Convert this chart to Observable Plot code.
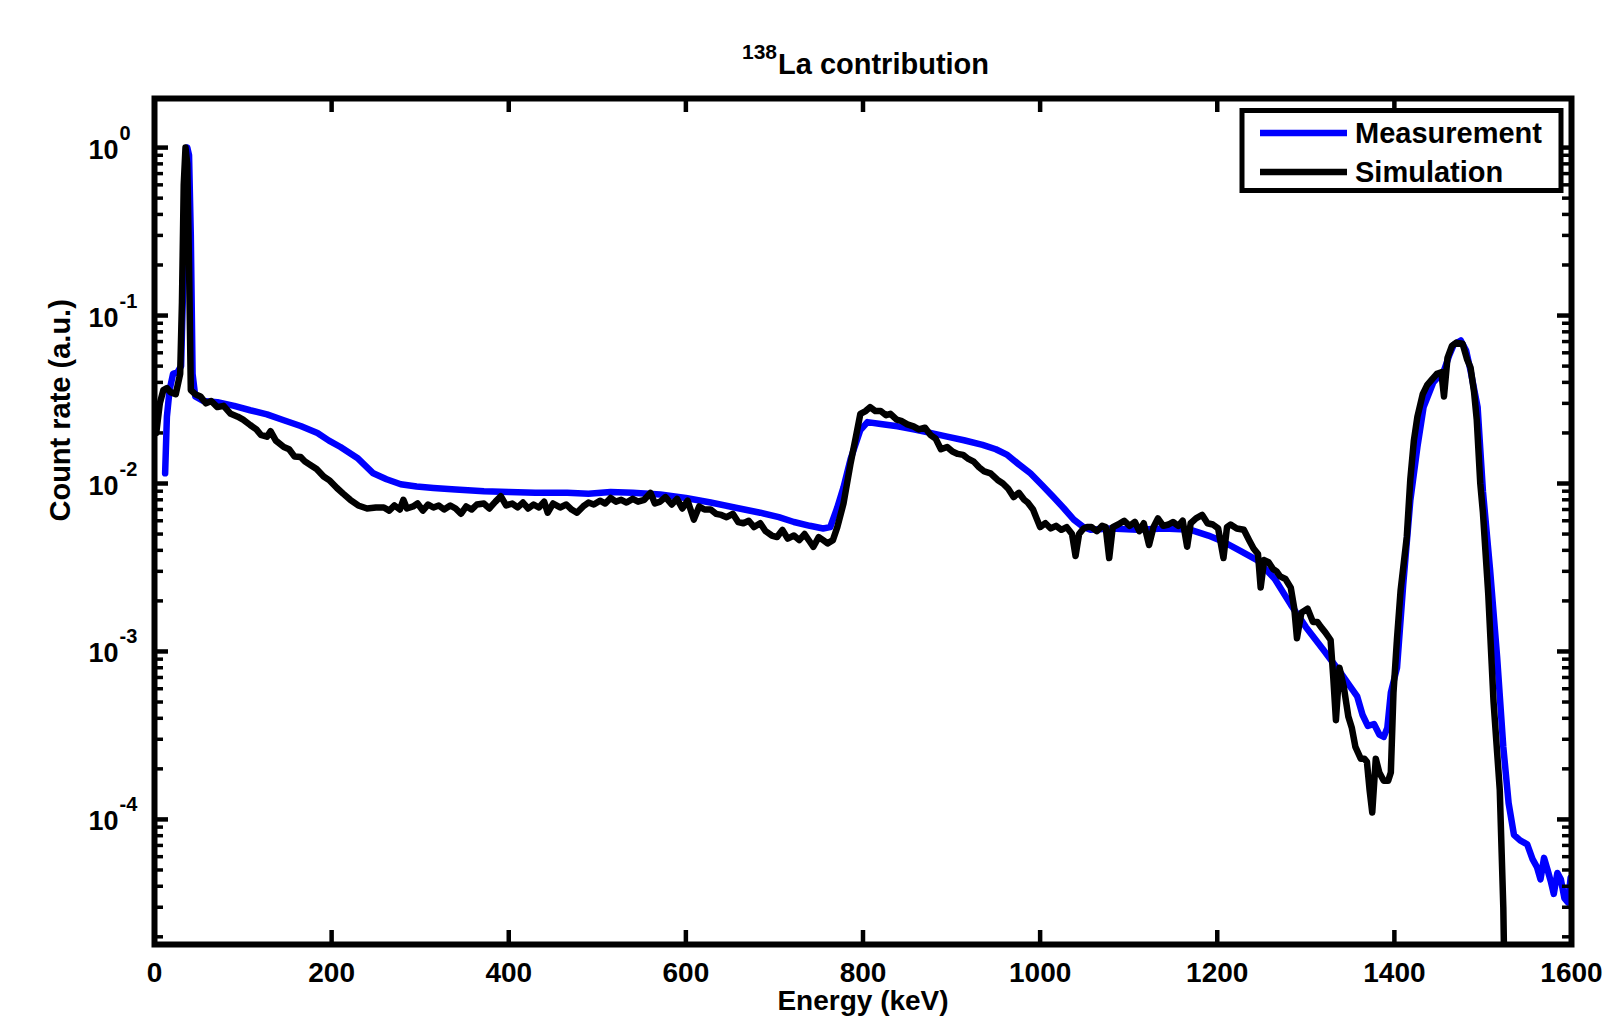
<!DOCTYPE html>
<html><head><meta charset="utf-8">
<script src="https://cdn.jsdelivr.net/npm/d3@7"></script>
<script src="https://cdn.jsdelivr.net/npm/@observablehq/plot@0.6"></script>
<style>body{margin:0;background:#fff}#chart{position:relative;width:1613px;height:1021px}</style>
</head><body><div id="chart"></div>
<script>
// ---- data ----
const measE = [12,14,17,21,26,30,33,35,37,39,41,43,46,55,71,90,108,127,146,165,184,197,210,229,247,262,278,296,315,340,372,400,430,466,490,515,540,571,600,628,655,684,705,722,740,755,763,771,778,786,797,805,820,839,857,876,895,914,935,950,963,976,989,1002,1015,1027,1038,1049,1057,1080,1110,1140,1170,1190,1207,1225,1245,1265,1283,1300,1320,1339,1350,1358,1364,1370,1377,1383,1388,1392,1396,1403,1410,1418,1426,1433,1444,1456,1462,1467,1475,1481,1486,1494,1500,1508,1516,1523,1529,1535,1542,1550,1556,1561,1565,1569,1573,1577,1580,1584,1588,1592,1596,1599,1601];
const measV = [0.0115,0.025,0.036,0.045,0.046,0.05,0.2,0.7,1.0,0.9,0.3,0.045,0.033,0.031,0.0305,0.029,0.0273,0.0258,0.0238,0.022,0.02,0.018,0.0165,0.0142,0.0115,0.0106,0.0099,0.0096,0.0094,0.0092,0.009,0.0089,0.0088,0.0088,0.0087,0.0089,0.0088,0.0086,0.0082,0.0077,0.0072,0.0067,0.0063,0.0059,0.0056,0.0054,0.0055,0.0072,0.0095,0.014,0.0208,0.0232,0.0226,0.0219,0.021,0.02,0.019,0.0181,0.017,0.016,0.0148,0.013,0.0115,0.0098,0.0083,0.0071,0.0061,0.0055,0.0053,0.0054,0.0053,0.0054,0.0053,0.0049,0.0045,0.004,0.0035,0.0027,0.0019,0.0014,0.00102,0.00075,0.00062,0.00054,0.00042,0.00036,0.00037,0.00032,0.00031,0.00035,0.00057,0.0008,0.0025,0.0079,0.0165,0.0285,0.04,0.047,0.058,0.067,0.071,0.062,0.047,0.0285,0.009,0.0031,0.00093,0.00027,0.000125,0.000081,0.000075,0.000071,0.000058,0.000052,0.000044,0.000059,0.00005,0.000042,0.000036,0.000048,0.000044,0.000034,0.000032,0.000045,0.00003];

const simE = [2,6,10,14,18,24,29,31,33,35,37,39,41,46,52,58,64,71,78,86,94,100,108,115,120,127,131,137,146,152,158,165,170,176,183,191,198,206,213,221,230,240,250,259,265,271,277,281,285,292,297,303,309,315,321,327,334,340,346,352,358,364,372,378,385,391,397,404,410,416,422,428,434,440,444,450,458,465,471,477,484,490,496,503,509,515,521,527,533,540,546,553,560,565,571,577,584,590,596,602,609,615,621,628,634,640,646,653,659,665,671,677,684,690,697,703,709,715,722,728,734,740,744,750,755,760,766,771,778,786,792,797,803,808,814,820,826,831,838,844,850,857,863,870,876,882,888,895,901,907,913,919,925,931,937,944,952,958,964,970,976,982,986,992,996,1000,1006,1012,1018,1024,1030,1036,1040,1044,1049,1053,1058,1064,1070,1074,1078,1082,1088,1095,1101,1107,1112,1117,1123,1128,1133,1139,1145,1150,1156,1161,1166,1170,1176,1183,1189,1195,1201,1207,1211,1215,1222,1230,1236,1241,1246,1249,1253,1258,1263,1267,1271,1277,1283,1287,1290,1295,1302,1308,1313,1317,1322,1328,1331,1334,1338,1343,1348,1352,1356,1362,1366,1369,1372,1375,1379,1383,1388,1393,1396,1399,1403,1407,1414,1418,1422,1426,1432,1437,1443,1448,1453,1456,1460,1465,1470,1477,1482,1486,1490,1493,1497,1500,1506,1512,1519,1523,1526];
const simV = [0.02,0.03,0.036,0.037,0.035,0.034,0.045,0.12,0.6,1.0,0.8,0.2,0.036,0.034,0.033,0.03,0.031,0.0285,0.029,0.026,0.025,0.024,0.0223,0.021,0.0195,0.019,0.0205,0.018,0.0165,0.016,0.0145,0.0144,0.0135,0.0129,0.0122,0.011,0.0104,0.0094,0.0087,0.008,0.0074,0.0071,0.0072,0.0072,0.0069,0.0074,0.007,0.008,0.0071,0.0073,0.0076,0.0069,0.0075,0.0072,0.0074,0.007,0.0074,0.0071,0.0066,0.0073,0.007,0.0075,0.0076,0.0071,0.0078,0.0084,0.0074,0.0076,0.0072,0.0077,0.0071,0.0075,0.0072,0.0078,0.0067,0.0076,0.0072,0.0075,0.007,0.0067,0.0073,0.0077,0.0075,0.0079,0.0076,0.0082,0.0078,0.008,0.0077,0.0081,0.0078,0.008,0.0088,0.0076,0.0078,0.0083,0.0075,0.0081,0.0071,0.0079,0.0061,0.0073,0.007,0.007,0.0066,0.0065,0.0063,0.0066,0.0059,0.0058,0.006,0.0055,0.0058,0.0052,0.0049,0.0048,0.0053,0.0047,0.0049,0.0046,0.005,0.0045,0.0042,0.0048,0.0046,0.0044,0.0046,0.0055,0.0076,0.0132,0.019,0.026,0.027,0.0285,0.027,0.027,0.0255,0.026,0.024,0.0235,0.0225,0.0219,0.021,0.0215,0.0195,0.0185,0.016,0.0165,0.0155,0.015,0.0148,0.014,0.0135,0.0125,0.0118,0.0115,0.0105,0.01,0.0093,0.0083,0.0088,0.008,0.0077,0.007,0.0062,0.0055,0.0058,0.0054,0.0056,0.0053,0.0055,0.005,0.0037,0.005,0.0054,0.0055,0.0055,0.0052,0.0056,0.0055,0.0036,0.0055,0.0057,0.006,0.0056,0.0059,0.0052,0.0058,0.0043,0.0055,0.0062,0.0056,0.0057,0.0059,0.0056,0.006,0.0042,0.0058,0.0062,0.0065,0.0058,0.0057,0.0054,0.0036,0.0055,0.0057,0.0054,0.0053,0.0046,0.0041,0.0038,0.0024,0.0035,0.0034,0.0031,0.003,0.0028,0.0027,0.0024,0.0018,0.0012,0.0017,0.0018,0.0015,0.0015,0.0014,0.0013,0.00117,0.0007,0.00039,0.0008,0.00061,0.00041,0.00035,0.00027,0.00023,0.00023,0.00022,0.00015,0.00011,0.00023,0.00019,0.00017,0.00017,0.00019,0.00057,0.0012,0.0023,0.0048,0.0106,0.018,0.025,0.034,0.0385,0.042,0.045,0.046,0.033,0.056,0.066,0.069,0.068,0.055,0.049,0.035,0.024,0.01,0.0067,0.0022,0.0005,0.00015,0.00003,0.000003];

const series = ["Measurement", "Simulation"];
const seriesColors = ["#0000ff", "#000000"];
const xTicks = [0, 200, 400, 600, 800, 1000, 1200, 1400, 1600];
const yTicks = [1, 0.1, 0.01, 0.001, 0.0001];
const yExps = ["0", "-1", "-2", "-3", "-4"];
const titleSup = "138";
const titleMain = "La contribution";
const xLabel = "Energy (keV)";
const yLabel = "Count rate (a.u.)";

// ---- layout ----
const W = 1613, H = 1021, mL = 154, mR = 42, mT = 98, mB = 77;
const pH = H - mT - mB, pW = W - mL - mR;
const xDomain = [0, 1600], yDomain = [1.8e-5, 1.96];
const FONT = "'Liberation Sans', Arial, Helvetica, sans-serif";
const LW = 6.5;

const meas = measE.map((e, i) => ({e, v: measV[i]}));
const sim = simE.map((e, i) => ({e, v: simV[i]}));
const minor = [];
for (let k = -5; k <= 0; k++) for (let m = 2; m <= 9; m++) {
  const v = m * Math.pow(10, k);
  if (v >= yDomain[0] && v <= yDomain[1]) minor.push(v);
}
const majLen = 14, minLen = 9;

const plot = Plot.plot({
  width: W, height: H,
  marginLeft: mL, marginRight: mR, marginTop: mT, marginBottom: mB,
  style: {fontFamily: FONT, fontWeight: "bold", background: "#fff"},
  x: {domain: xDomain, axis: null},
  y: {type: "log", domain: yDomain, axis: null},
  marks: [
    Plot.line(meas, {x: "e", y: "v", stroke: seriesColors[0], strokeWidth: LW, strokeLinejoin: "round", clip: true}),
    Plot.line(sim, {x: "e", y: "v", stroke: seriesColors[1], strokeWidth: LW, strokeLinejoin: "round", clip: true}),
    Plot.ruleX(xTicks, {x: d => d, insetTop: pH - majLen, stroke: "#000", strokeWidth: 4.5}),
    Plot.ruleX(xTicks, {x: d => d, insetBottom: pH - majLen, stroke: "#000", strokeWidth: 4.5}),
    Plot.ruleY(yTicks, {y: d => d, insetRight: pW - majLen, stroke: "#000", strokeWidth: 4.5}),
    Plot.ruleY(yTicks, {y: d => d, insetLeft: pW - majLen, stroke: "#000", strokeWidth: 4.5}),
    Plot.ruleY(minor, {y: d => d, insetRight: pW - minLen, stroke: "#000", strokeWidth: 3.5}),
    Plot.ruleY(minor, {y: d => d, insetLeft: pW - minLen, stroke: "#000", strokeWidth: 3.5}),
    Plot.frame({stroke: "#000", strokeWidth: 6}),
    Plot.text(xTicks, {x: d => d, text: d => String(d), frameAnchor: "bottom", lineAnchor: "top", dy: 18, fontSize: 28, fontWeight: "bold", fill: "#000"}),
    Plot.text(yTicks, {y: d => d, text: () => "10", frameAnchor: "left", textAnchor: "end", lineAnchor: "bottom", dx: -36, dy: 11, fontSize: 27, fontWeight: "bold", fill: "#000"}),
    Plot.text(yTicks, {y: d => d, text: (d, i) => yExps[i], frameAnchor: "left", textAnchor: "start", lineAnchor: "bottom", dx: -35, dy: -8, fontSize: 20, fontWeight: "bold", fill: "#000"}),
    Plot.text([xLabel], {text: d => d, frameAnchor: "bottom", lineAnchor: "top", dy: 46, fontSize: 28, fontWeight: "bold", fill: "#000"}),
    Plot.text([yLabel], {text: d => d, frameAnchor: "left", rotate: -90, lineAnchor: "middle", dx: -94, fontSize: 29, fontWeight: "bold", fill: "#000"}),
    Plot.text([titleMain], {text: d => d, frameAnchor: "top", textAnchor: "start", lineAnchor: "bottom", dx: -85, dy: -25, fontSize: 29, fontWeight: "bold", fill: "#000"}),
    Plot.text([titleSup], {text: d => d, frameAnchor: "top", textAnchor: "end", lineAnchor: "bottom", dx: -86, dy: -40, fontSize: 21, fontWeight: "bold", fill: "#000"})
  ]
});
document.getElementById("chart").appendChild(plot);

// legend
const svg = d3.select(plot);
const lg = svg.append("g").attr("font-family", FONT).attr("font-weight", "bold").attr("text-anchor", "start");
lg.append("rect").attr("x", 1242).attr("y", 110.5).attr("width", 319).attr("height", 80)
  .attr("fill", "#fff").attr("stroke", "#000").attr("stroke-width", 5);
series.forEach((s, i) => {
  const y = 133 + i * 39;
  lg.append("line").attr("x1", 1260).attr("x2", 1347).attr("y1", y).attr("y2", y)
    .attr("stroke", seriesColors[i]).attr("stroke-width", LW);
  lg.append("text").attr("x", 1355).attr("y", y + 10).attr("font-size", 29)
    .attr("text-anchor", "start").attr("fill", "#000").text(s);
});
</script>
</body></html>
